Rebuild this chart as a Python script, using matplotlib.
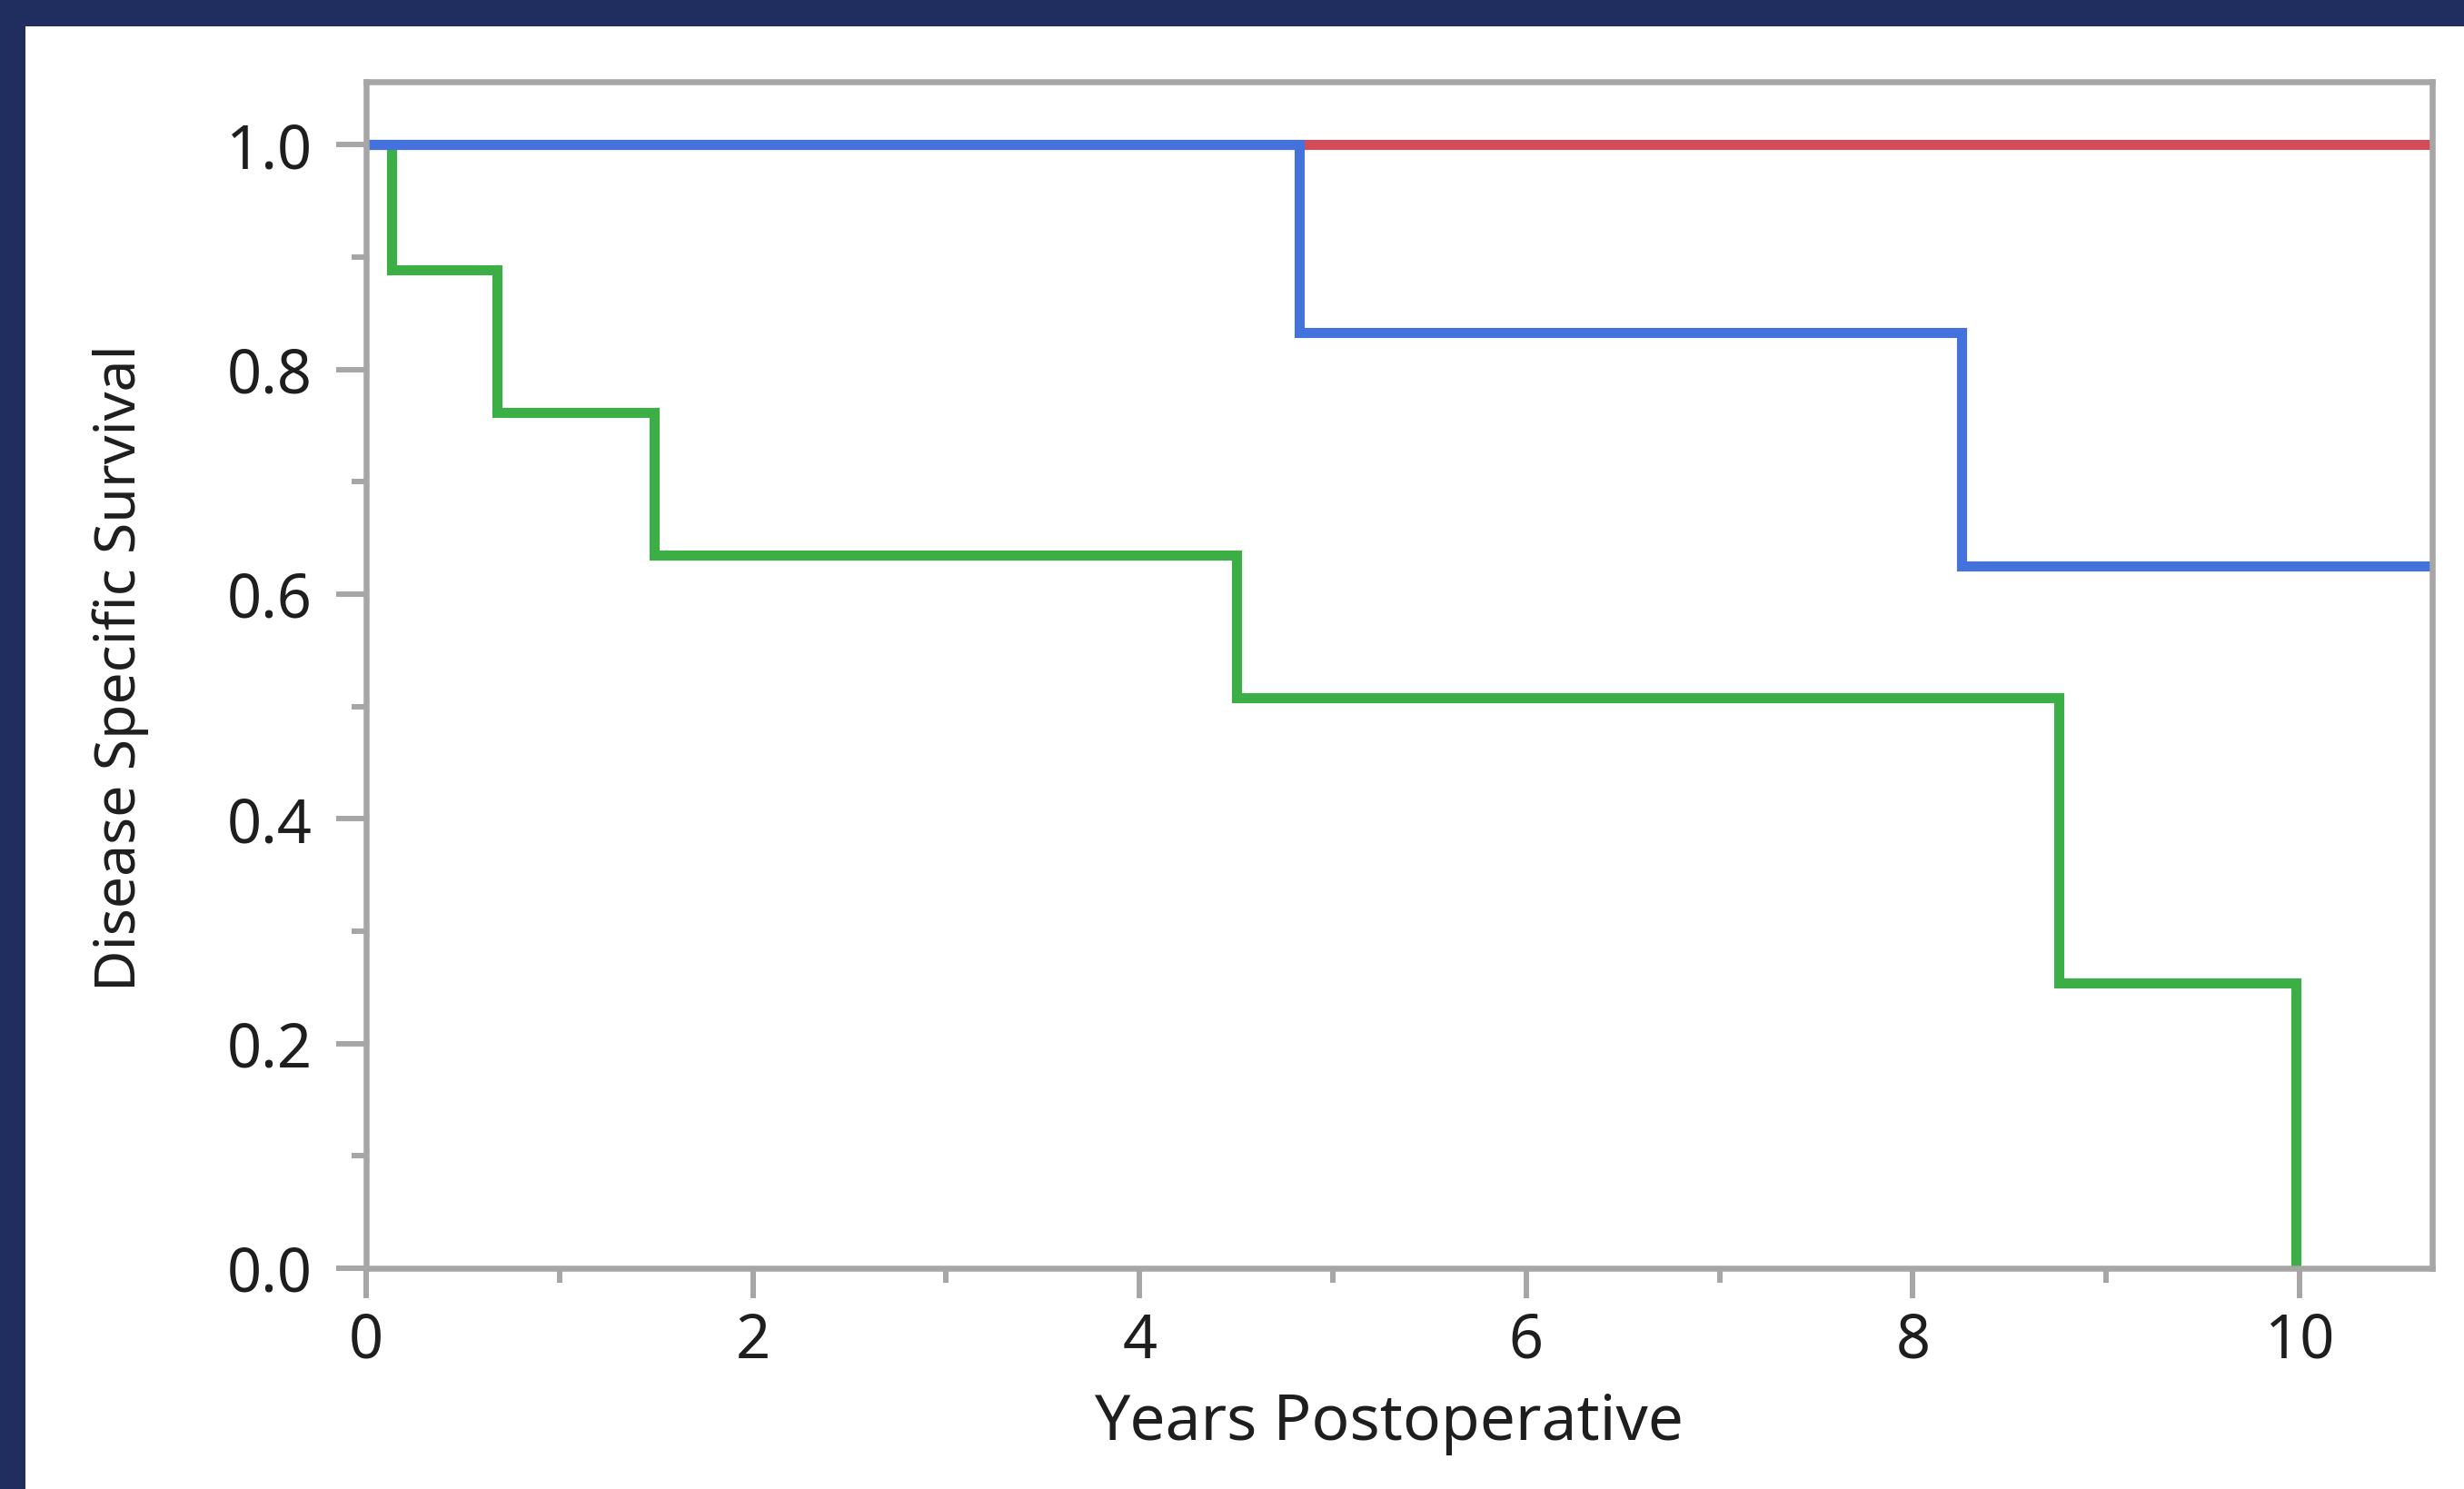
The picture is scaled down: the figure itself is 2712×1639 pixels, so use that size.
import matplotlib
matplotlib.use("Agg")
import matplotlib.pyplot as plt
from matplotlib.patches import Rectangle
from matplotlib.ticker import MultipleLocator

plt.rcParams['font.family'] = ['Noto Sans', 'DejaVu Sans']

# Kaplan-Meier step data (years, survival)
green_t = [0, 0.13, 0.675, 1.49, 4.50, 8.755, 9.98]
green_s = [1.0, 0.889, 0.762, 0.635, 0.508, 0.254, 0.0]

blue_t = [0, 4.825, 8.25, 10.8]
blue_s = [1.0, 0.833, 0.625, 0.625]

red_t = [0, 10.8]
red_s = [1.0, 1.0]

x_ticks = [0, 2, 4, 6, 8, 10]
y_ticks = [0.0, 0.2, 0.4, 0.6, 0.8, 1.0]

W, H = 2712, 1639
fig = plt.figure(figsize=(W / 100, H / 100), dpi=100)
fig.patch.set_facecolor('white')

# dark frame along top and left edge
navy = '#1f2d5f'
fig.patches.append(Rectangle((0, 1 - 29 / H), 1, 29 / H, transform=fig.transFigure,
                             facecolor=navy, edgecolor='none', zorder=0))
fig.patches.append(Rectangle((0, 0), 28 / W, 1, transform=fig.transFigure,
                             facecolor=navy, edgecolor='none', zorder=0))

ax = fig.add_axes([403 / W, (H - 1396) / H, (2677 - 403) / W, (1396 - 90) / H])

grey = '#a6a6a6'
lw = 8.0
ax.step(red_t, red_s, where='post', color='#d34a5a', lw=lw, solid_joinstyle='miter')
ax.step(green_t, green_s, where='post', color='#3cae46', lw=lw, solid_joinstyle='miter')
ax.step(blue_t, blue_s, where='post', color='#4472dd', lw=lw, solid_joinstyle='miter')

ax.set_xlim(0, 10.686)
ax.set_ylim(0, 1.056)
ax.set_xticks(x_ticks)
ax.set_xticklabels([str(v) for v in x_ticks])
ax.set_yticks(y_ticks)
ax.set_yticklabels([f"{v:.1f}" for v in y_ticks])
ax.xaxis.set_minor_locator(MultipleLocator(1))
ax.yaxis.set_minor_locator(MultipleLocator(0.1))

for s in ax.spines.values():
    s.set_color(grey)
    s.set_linewidth(4.7)

txt = '#1e1e1e'
ax.tick_params(which='major', direction='out', color=grey, width=4.3, length=23.8,
               labelsize=48, labelcolor=txt)
ax.tick_params(which='minor', direction='out', color=grey, width=4.3, length=11.5)
ax.tick_params(axis='x', which='major', pad=10)
ax.tick_params(axis='y', which='major', pad=19)

ax.set_xlabel("Years Postoperative", fontsize=50, color=txt, va='center')
ax.set_ylabel("Disease Specific Survival", fontsize=45, color=txt, va='center')
ax.xaxis.set_label_coords(0.495, -0.131)
ax.yaxis.set_label_coords(-0.119, 0.506)

fig.savefig("out.png", dpi=100)
